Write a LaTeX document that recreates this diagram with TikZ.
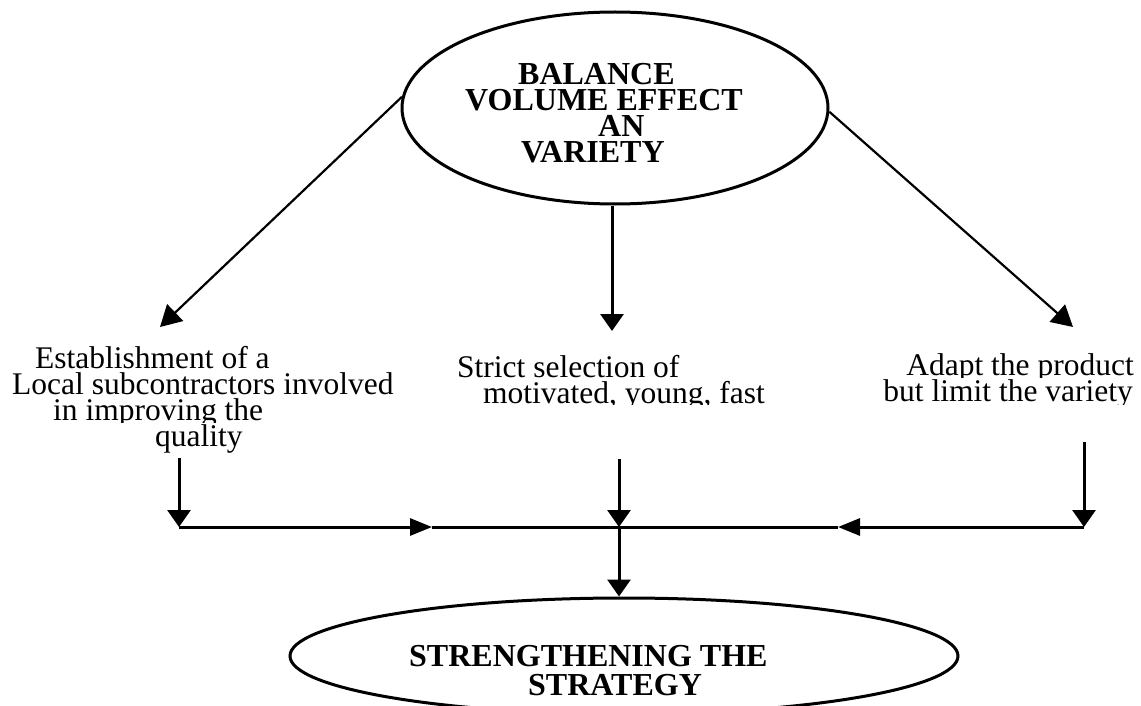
\documentclass[tikz,border=0pt]{standalone}
\usepackage{fontspec}
\setmainfont{Liberation Serif}
\usetikzlibrary{shapes.geometric,arrows.meta}
% exact line spacing inside the multi-line nodes
\lineskiplimit=-100pt

\begin{document}
\begin{tikzpicture}[x=1pt,y=-1pt,
  bubble/.style={draw, ellipse, line width=3pt, inner sep=0pt},
  headtext/.style={inner sep=0pt, align=left, font=\fontsize{32}{26.3}\selectfont\bfseries},
  bodytext/.style={inner sep=0pt, font=\fontsize{31.5}{26}\selectfont},
  arrdiag/.style={line width=2.2pt, -{Triangle[length=21pt,width=23pt]}},
  arrdown/.style={line width=3pt, -{Triangle[length=17pt,width=23pt]}},
  arrside/.style={line width=3pt, -{Triangle[length=22pt,width=17pt]}},
  joinline/.style={line width=3pt}]
\useasboundingbox (0,0) rectangle (1141,706);

% ---- top goal (multi-line nodes are anchored on their last baseline) ----
\node[bubble, minimum width=426pt, minimum height=192pt] (top) at (615,108) {};
\node[headtext, anchor=base west] (toptxt) at (465,163)
  {\hspace*{53pt}BALANCE\\ VOLUME EFFECT\\ \hspace*{133pt}AN\\ \hspace*{56pt}VARIETY};

% ---- bottom result ----
\node[bubble, minimum width=668pt, minimum height=116pt] (bot) at (624,656) {};
\node[headtext, font=\fontsize{32}{29}\selectfont\bfseries, anchor=base west] (bottxt) at (409,695)
  {STRENGTHENING THE\\ \hspace*{119pt}STRATEGY};

% ---- three measures ----
\begin{scope}
  \clip (0,300) rectangle (420,422);
  \node[bodytext, align=left, anchor=base west] (local) at (12,420)
    {\hspace*{23pt}Establishment of a\\ Local subcontractors involved\\ \hspace*{41pt}in improving the};
\end{scope}
\node[bodytext, anchor=base west] (quality) at (155,446) {quality};

\begin{scope}
  \clip (420,300) rectangle (800,404);
  \node[bodytext, align=left, anchor=base west] (staff) at (457,403)
    {Strict selection of\\ \hspace*{26pt}motivated, young, fast};
\end{scope}

\begin{scope}
  \clip (850,300) rectangle (1141,377);
  \node[bodytext, anchor=base east] (adapt) at (1134,375) {Adapt the product};
\end{scope}
\begin{scope}
  \clip (850,379) rectangle (1141,404);
  \node[bodytext, anchor=base east] (limit) at (1133,401) {but limit the variety};
\end{scope}

% ---- connector points ----
\coordinate (tipL) at (160,327);
\coordinate (tipM) at (612,331);
\coordinate (tipR) at (1073,327);
\coordinate (fromL) at (179,458);
\coordinate (fromM) at (619,459);
\coordinate (fromR) at (1084,442);
\coordinate (jL) at (179,527);
\coordinate (jM) at (619,527);
\coordinate (jR) at (1084,527);
\coordinate (hL) at (432,527);
\coordinate (hR) at (838,527);

% ---- arrows from the goal ----
\draw[arrdiag] (top.177) -- (tipL);
\draw[arrdown] (top.south -| tipM) -- (tipM);
\draw[arrdiag] (top.-1) -- (tipR);

% ---- gathering bar ----
\draw[arrdown] (fromL) -- (jL);
\draw[arrdown] (fromM) -- (jM);
\draw[arrdown] (fromR) -- (jR);
\draw[arrside] (jL) -- (hL);
\draw[joinline] (hL) -- (hR);
\draw[arrside] (jR) -- (hR);
\draw[arrdown] (jM) -- (jM |- bot.north);
\end{tikzpicture}
\end{document}
